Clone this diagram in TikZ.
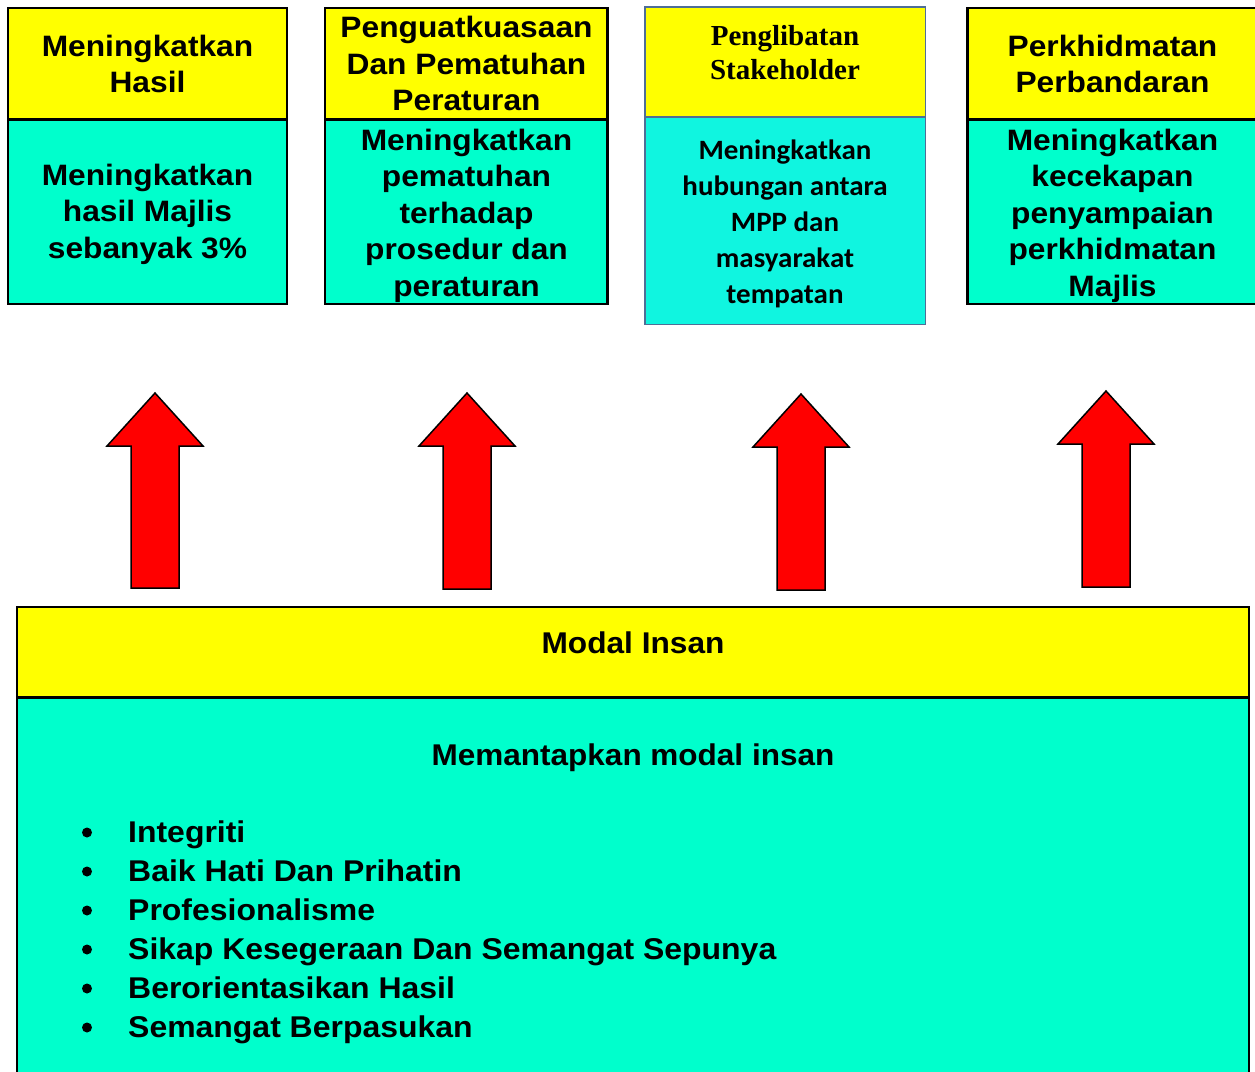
\documentclass[tikz,border=0pt]{standalone}
\usepackage{fontspec}
\setmainfont{Liberation Sans}
\newfontfamily\serifb{Liberation Serif}
\newfontfamily\calib{Carlito}
\usepackage{graphicx}
\definecolor{ylw}{HTML}{FFFF00}
\definecolor{cyn}{HTML}{00FFCC}
\definecolor{cyntwo}{HTML}{10F5E0}
\definecolor{bluegray}{HTML}{4F6E96}
\newcommand\ttx[2]{\scalebox{#1}[1]{\begin{tabular}{@{}c@{}}#2\end{tabular}}}
\begin{document}
\begin{tikzpicture}[x=1pt,y=-1pt,
  ybox/.style={fill=ylw,draw=black,line width=2.4pt},
  cbox/.style={fill=cyn,draw=black,line width=2.4pt},
  ybtwo/.style={fill=ylw,draw=bluegray,line width=1.7pt},
  cbtwo/.style={fill=cyntwo,draw=bluegray,line width=1.7pt},
  txt/.style={inner sep=0pt,anchor=north,font=\bfseries\fontsize{29.5}{36.5}\selectfont},
  sertxt/.style={inner sep=0pt,anchor=north,font=\serifb\bfseries\fontsize{29}{34}\selectfont},
  caltxt/.style={inner sep=0pt,anchor=north,font=\calib\bfseries\fontsize{28}{36}\selectfont},
  bigtxt/.style={inner sep=0pt,anchor=base,font=\bfseries\fontsize{30}{36}\selectfont},
  bultxt/.style={inner sep=0pt,anchor=base west,font=\bfseries\fontsize{30}{39}\selectfont},
  bigarrow/.style={fill=red,draw=black,line width=1.5pt,line join=miter},
]
\useasboundingbox (0,0) rectangle (1255,1071);

% top box 1
\draw[ybox] (8,8) rectangle (287,119.5);
\draw[cbox] (8,119.5) rectangle (287,304);
\node[txt] (t1) at (147.5,30.5) {\ttx{1.075}{Meningkatkan\\Hasil}};
\node[txt] (b1) at (147.5,159.5) {\ttx{1.075}{Meningkatkan\\hasil Majlis\\sebanyak 3\%}};

% top box 2
\draw[ybox] (325,8) rectangle (607.5,119.5);
\draw[cbox] (325,119.5) rectangle (607.5,304);
\node[txt] (t2) at (466.5,11.8) {\ttx{1.075}{Penguatkuasaan\\Dan Pematuhan\\Peraturan}};
\node[txt] (b2) at (466.5,124.5) {\ttx{1.075}{Meningkatkan\\pematuhan\\terhadap\\prosedur dan\\peraturan}};

% top box 3
\draw[ybtwo] (645,7) rectangle (925.5,117);
\draw[cbtwo] (645,117) rectangle (925.5,324.5);
\node[sertxt] (t3) at (785,21.2) {\begin{tabular}{@{}c@{}}Penglibatan\\Stakeholder\end{tabular}};
\node[caltxt] (b3) at (785,133.8) {\ttx{1.035}{Meningkatkan\\hubungan antara\\MPP dan\\masyarakat\\tempatan}};

% top box 4
\draw[ybox] (967.5,8) rectangle (1258,119.5);
\draw[cbox] (967.5,119.5) rectangle (1258,304);
\node[txt] (t4) at (1112.5,30.5) {\ttx{1.075}{Perkhidmatan\\Perbandaran}};
\node[txt] (b4) at (1112.5,124.5) {\ttx{1.075}{Meningkatkan\\kecekapan\\penyampaian\\perkhidmatan\\Majlis}};

% arrows
\foreach \cx/\ty/\by in {155/393/588, 467/393/589, 801/394/590, 1106/391/587}{
  \draw[bigarrow] (\cx,\ty) -- (\cx+48,\ty+53) -- (\cx+24,\ty+53) -- (\cx+24,\by)
    -- (\cx-24,\by) -- (\cx-24,\ty+53) -- (\cx-48,\ty+53) -- cycle;
}

% bottom box
\draw[ybox] (17,607) rectangle (1249,697.5);
\draw[cbox] (17,697.5) rectangle (1249,1085);
\node[bigtxt] (mt) at (633,653.3) {\scalebox{1.055}[1]{Modal Insan}};
\node[bigtxt] (mb) at (633,765) {\scalebox{1.05}[1]{Memantapkan modal insan}};

\foreach \i/\t in {0/Integriti, 1/Baik Hati Dan Prihatin, 2/Profesionalisme,
  3/Sikap Kesegeraan Dan Semangat Sepunya, 4/Berorientasikan Hasil, 5/Semangat Berpasukan}{
  \fill (87,832.5+39*\i) circle (5);
  \node[bultxt] (li\i) at (128,842+39*\i) {\scalebox{1.065}[1]{\t}};
}
\end{tikzpicture}
\end{document}
